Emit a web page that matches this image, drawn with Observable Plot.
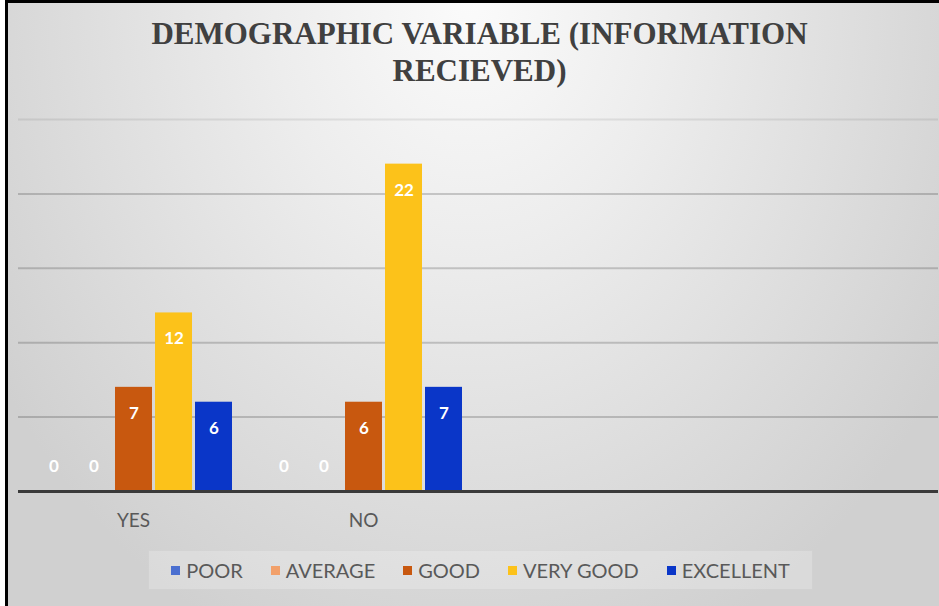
<!DOCTYPE html>
<html>
<head>
<meta charset="utf-8">
<script src="https://cdn.jsdelivr.net/npm/d3@7"></script>
<script src="https://cdn.jsdelivr.net/npm/@observablehq/plot@0.6"></script>
<style>
  html, body { margin: 0; padding: 0; }
  #chart {
    position: relative; width: 939px; height: 606px; overflow: hidden;
    background: radial-gradient(ellipse 560px 700px at 470px 0px, #fbfbfb 0%, #ededed 35%, #dbdbdb 75%, #d0d0d0 100%);
    font-family: Lato, "Open Sans", sans-serif;
  }
  #title {
    height: 100px; box-sizing: border-box; padding-top: 15px; padding-left: 20px;
    font-weight: bold;
    font-size: 31px; line-height: 37px; color: #404040; text-align: center; white-space: nowrap;
  }
  #plot { height: 436px; }
  #plot svg { display: block; }
  #legend { position: relative; height: 70px; }
  #legend .box {
    position: absolute; left: 148px; top: 14px; width: 665px; height: 40px;
    background: rgba(255,255,255,0.22); border: 1px solid rgba(0,0,0,0.04); box-sizing: border-box;
    display: flex; align-items: center; justify-content: center; gap: 28px;
  }
  #legend .item { display: flex; align-items: center; font-size: 20px; color: #595959; }
  #legend .sw { width: 9px; height: 9px; margin-right: 6px; }
  .edge { position: absolute; pointer-events: none; }
</style>
</head>
<body>
<div id="chart">
  <div id="title" style="font-family: 'Liberation Serif', 'Tinos', 'Times New Roman', Times, 'Nimbus Roman', 'FreeSerif', 'DejaVu Serif', 'Noto Serif', serif;">DEMOGRAPHIC VARIABLE (INFORMATION<br>RECIEVED)</div>
  <div id="plot"></div>
  <div id="legend"><div class="box"></div></div>
  <div class="edge" style="left:0;top:0;width:5px;height:606px;background:#fff"></div>
  <div class="edge" style="left:5px;top:0;width:3px;height:606px;background:#000"></div>
  <div class="edge" style="left:5px;top:0;width:934px;height:3px;background:#000"></div>
</div>
<script>
const groups = ["YES", "NO"];
const blankGroups = [" ", "  "];
const ratings = ["POOR", "AVERAGE", "GOOD", "VERY GOOD", "EXCELLENT"];
const yesCounts = [0, 0, 7, 12, 6];
const noCounts = [0, 0, 6, 22, 7];
const ratingColors = ["#4a6fd0", "#f2a06a", "#c8580f", "#fcc21a", "#0a36c8"];
const gridValues = [5, 10, 15, 20, 25];

const seriesByGroup = [yesCounts, noCounts];
const data = groups.flatMap((g, gi) =>
  ratings.map((r, i) => ({group: g, rating: r, value: seriesByGroup[gi][i]}))
);
// empty category slots (no values) so that their facets are drawn
const allRows = data.concat(blankGroups.map(g => ({group: g, rating: ratings[0], value: null})));

const chart = Plot.plot({
  width: 939,
  height: 436,
  marginTop: 19,
  marginBottom: 45,
  marginLeft: 17,
  marginRight: 0,
  style: {background: "transparent", fontFamily: "Lato, 'Open Sans', sans-serif", overflow: "visible"},
  fx: {domain: [...groups, ...blankGroups], padding: 0, paddingInner: 0, paddingOuter: 0, label: null},
  x: {domain: ratings, paddingInner: 0.075, paddingOuter: 0.35, axis: null},
  y: {domain: [0, 25], axis: null},
  color: {domain: ratings, range: ratingColors},
  marks: [
    Plot.ruleY(gridValues, {stroke: "#000", strokeOpacity: d => d === 25 ? 0.08 : 0.18, strokeWidth: 2}),
    Plot.barY(allRows, {fx: "group", x: "rating", y: "value", fill: "rating"}),
    Plot.text(data.filter(d => d.value > 0), {
      fx: "group", x: "rating", y: "value", text: d => String(d.value),
      dy: 26, fill: "white", fontWeight: "bold", fontSize: 17
    }),
    Plot.text(data.filter(d => d.value === 0), {
      fx: "group", x: "rating", y: "value", text: d => String(d.value),
      dy: -25, fill: "white", fontWeight: "bold", fontSize: 17
    }),
    Plot.ruleY([0], {stroke: "#3a3a3a", strokeWidth: 3}),
    Plot.axisFx({anchor: "bottom", tickSize: 0, tickPadding: 22, fontSize: 19, fill: "#595959", color: "#595959", label: null})
  ]
});
document.getElementById("plot").appendChild(chart);

const box = d3.select("#legend .box");
ratings.forEach((r, i) => {
  const item = box.append("div").attr("class", "item");
  item.append("div").attr("class", "sw").style("background", ratingColors[i]);
  item.append("span").text(r);
});
</script>
</body>
</html>
